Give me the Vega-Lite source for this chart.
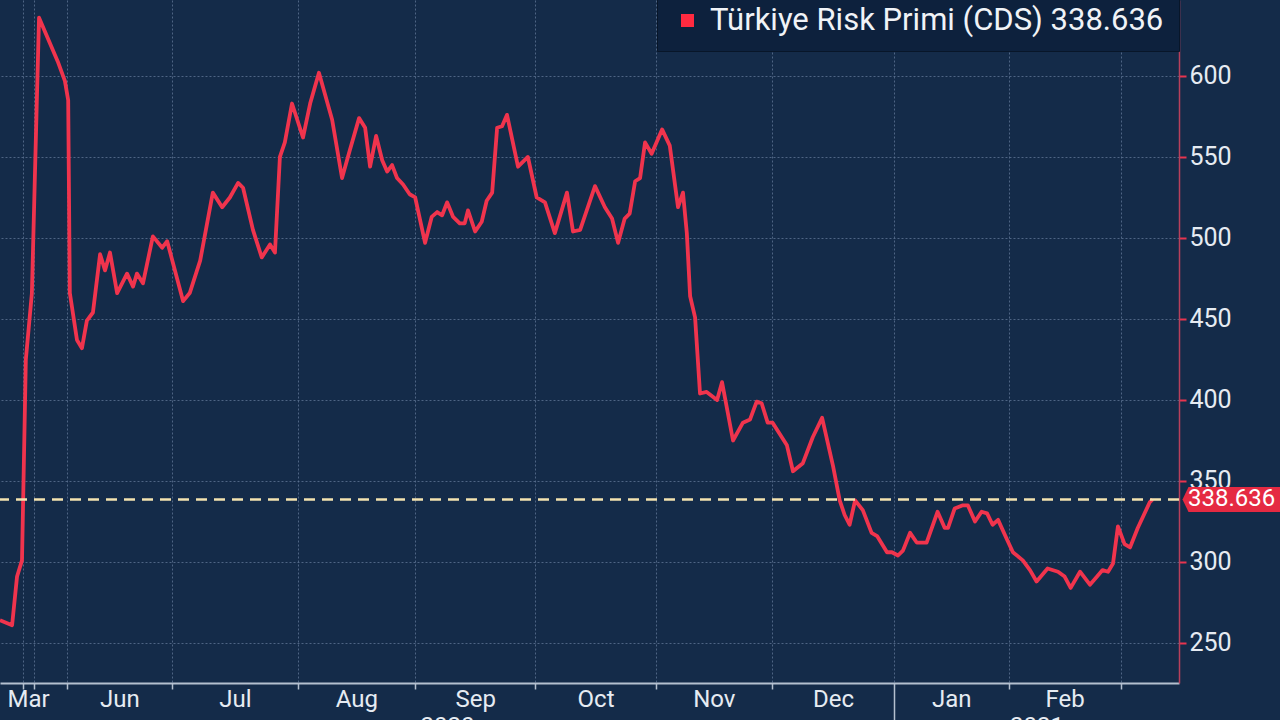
{
  "$schema": "https://vega.github.io/schema/vega-lite/v6.json",
  "width": 1179,
  "height": 683,
  "autosize": {"type": "none"},
  "padding": {"left": 0, "top": 0, "right": 101, "bottom": 37},
  "background": "#142b49",
  "datasets": {
    "cds": [
      {"d": 0, "cds": 264}, {"d": 2.2, "cds": 261}, {"d": 3.1, "cds": 291}, {"d": 4.0, "cds": 301},
      {"d": 4.7, "cds": 425}, {"d": 5.8, "cds": 466}, {"d": 6.7, "cds": 585}, {"d": 7.1, "cds": 636},
      {"d": 9.1, "cds": 620}, {"d": 10.5, "cds": 609}, {"d": 11.8, "cds": 597}, {"d": 12.4, "cds": 585},
      {"d": 12.7, "cds": 466}, {"d": 14.0, "cds": 437}, {"d": 14.9, "cds": 432}, {"d": 15.8, "cds": 449},
      {"d": 16.9, "cds": 454}, {"d": 18.2, "cds": 490}, {"d": 19.1, "cds": 480}, {"d": 20.0, "cds": 491},
      {"d": 21.3, "cds": 466}, {"d": 23.1, "cds": 478}, {"d": 24.2, "cds": 470}, {"d": 24.9, "cds": 478},
      {"d": 26.0, "cds": 472}, {"d": 27.8, "cds": 501}, {"d": 29.5, "cds": 494}, {"d": 30.4, "cds": 498},
      {"d": 33.3, "cds": 461}, {"d": 34.5, "cds": 466}, {"d": 36.4, "cds": 486}, {"d": 38.7, "cds": 528},
      {"d": 40.4, "cds": 519}, {"d": 41.8, "cds": 525}, {"d": 43.3, "cds": 534}, {"d": 44.2, "cds": 531},
      {"d": 46.0, "cds": 505}, {"d": 47.6, "cds": 488}, {"d": 49.1, "cds": 496}, {"d": 50.0, "cds": 491},
      {"d": 50.9, "cds": 550}, {"d": 51.8, "cds": 559}, {"d": 53.1, "cds": 583}, {"d": 55.1, "cds": 562},
      {"d": 56.4, "cds": 583}, {"d": 58.0, "cds": 602}, {"d": 60.4, "cds": 573}, {"d": 62.2, "cds": 537},
      {"d": 63.6, "cds": 554}, {"d": 65.3, "cds": 574}, {"d": 66.4, "cds": 568}, {"d": 67.3, "cds": 544},
      {"d": 68.4, "cds": 563}, {"d": 69.5, "cds": 548}, {"d": 70.4, "cds": 541}, {"d": 71.3, "cds": 545},
      {"d": 72.2, "cds": 537}, {"d": 73.3, "cds": 533}, {"d": 74.5, "cds": 527}, {"d": 75.5, "cds": 525},
      {"d": 77.3, "cds": 497}, {"d": 78.5, "cds": 513}, {"d": 79.5, "cds": 516}, {"d": 80.4, "cds": 514},
      {"d": 81.3, "cds": 522}, {"d": 82.4, "cds": 513}, {"d": 83.6, "cds": 509}, {"d": 84.5, "cds": 509},
      {"d": 85.1, "cds": 517}, {"d": 86.4, "cds": 504}, {"d": 87.6, "cds": 510}, {"d": 88.5, "cds": 523},
      {"d": 89.5, "cds": 528}, {"d": 90.4, "cds": 568}, {"d": 91.3, "cds": 569}, {"d": 92.2, "cds": 576},
      {"d": 94.2, "cds": 544}, {"d": 96.0, "cds": 550}, {"d": 97.6, "cds": 525}, {"d": 99.1, "cds": 522},
      {"d": 100.9, "cds": 503}, {"d": 103.1, "cds": 528}, {"d": 104.2, "cds": 504}, {"d": 105.5, "cds": 505},
      {"d": 108.2, "cds": 532}, {"d": 110.0, "cds": 519}, {"d": 111.3, "cds": 512}, {"d": 112.4, "cds": 497},
      {"d": 113.6, "cds": 512}, {"d": 114.5, "cds": 515}, {"d": 115.5, "cds": 535}, {"d": 116.4, "cds": 537},
      {"d": 117.3, "cds": 559}, {"d": 118.5, "cds": 552}, {"d": 120.4, "cds": 567}, {"d": 121.8, "cds": 557},
      {"d": 123.3, "cds": 519}, {"d": 124.2, "cds": 528}, {"d": 124.9, "cds": 503}, {"d": 125.5, "cds": 464},
      {"d": 126.4, "cds": 451}, {"d": 127.3, "cds": 404}, {"d": 128.5, "cds": 405}, {"d": 130.4, "cds": 400},
      {"d": 131.3, "cds": 411}, {"d": 133.3, "cds": 375}, {"d": 135.1, "cds": 386}, {"d": 136.4, "cds": 388},
      {"d": 137.6, "cds": 399}, {"d": 138.5, "cds": 398}, {"d": 139.6, "cds": 386}, {"d": 140.5, "cds": 386},
      {"d": 143.1, "cds": 372}, {"d": 144.2, "cds": 356}, {"d": 146.0, "cds": 361}, {"d": 147.8, "cds": 377},
      {"d": 149.5, "cds": 389}, {"d": 151.5, "cds": 359}, {"d": 152.7, "cds": 338}, {"d": 153.6, "cds": 329},
      {"d": 154.5, "cds": 323}, {"d": 155.5, "cds": 338}, {"d": 156.9, "cds": 332}, {"d": 158.5, "cds": 318},
      {"d": 159.5, "cds": 316}, {"d": 161.3, "cds": 306}, {"d": 162.2, "cds": 306}, {"d": 163.3, "cds": 304},
      {"d": 164.2, "cds": 307}, {"d": 165.5, "cds": 318}, {"d": 166.7, "cds": 312}, {"d": 168.5, "cds": 312},
      {"d": 170.5, "cds": 331}, {"d": 171.8, "cds": 321}, {"d": 172.4, "cds": 321}, {"d": 173.6, "cds": 333},
      {"d": 175.1, "cds": 335}, {"d": 176.0, "cds": 335}, {"d": 177.3, "cds": 325}, {"d": 178.5, "cds": 331},
      {"d": 179.5, "cds": 330}, {"d": 180.5, "cds": 323}, {"d": 181.5, "cds": 326}, {"d": 183.1, "cds": 314},
      {"d": 184.2, "cds": 306}, {"d": 186.0, "cds": 301}, {"d": 187.3, "cds": 295}, {"d": 188.5, "cds": 288},
      {"d": 190.5, "cds": 296}, {"d": 192.4, "cds": 294}, {"d": 193.6, "cds": 291}, {"d": 194.7, "cds": 284},
      {"d": 196.4, "cds": 294}, {"d": 198.2, "cds": 286}, {"d": 199.5, "cds": 291}, {"d": 200.5, "cds": 295},
      {"d": 201.5, "cds": 294}, {"d": 202.4, "cds": 299}, {"d": 203.3, "cds": 322}, {"d": 204.5, "cds": 311},
      {"d": 205.5, "cds": 309}, {"d": 206.9, "cds": 321}, {"d": 209.1, "cds": 337}, {"d": 209.6, "cds": 338.636}
    ],
    "last": [{"d": 214.4, "cds": 338.636, "label": "338.636"}]
  },
  "layer": [
    {
      "data": {"name": "cds"},
      "transform": [{"calculate": "'Türkiye Risk Primi (CDS) 338.636'", "as": "series"}],
      "mark": {"type": "line", "strokeWidth": 3.8, "strokeJoin": "round", "clip": true},
      "encoding": {
        "x": {
          "field": "d",
          "type": "quantitative",
          "scale": {"domain": [0, 214.4], "nice": false, "zero": false},
          "axis": {
            "title": null,
            "values": [4.2, 5.1, 6.2, 12.2, 21.7, 31.3, 42.7, 54.2, 64.8, 75.5, 81.3, 86.4, 97.3, 108.3, 119.3, 129.8, 140.4, 151.5, 162.5, 173, 183.5, 188.5, 193.6, 203.8],
            "labelExpr": "indexof([5.1, 21.7, 42.7, 64.8, 86.4, 108.3, 129.8, 151.5, 173, 193.6], datum.value) >= 0 ? ['Mar', 'Jun', 'Jul', 'Aug', 'Sep', 'Oct', 'Nov', 'Dec', 'Jan', 'Feb'][indexof([5.1, 21.7, 42.7, 64.8, 86.4, 108.3, 129.8, 151.5, 173, 193.6], datum.value)] : datum.value == 81.3 ? ['', '2020'] : datum.value == 188.5 ? ['', '2021'] : ''",
            "labelOverlap": false,
            "labelFlush": false,
            "labelBound": false,
            "labelFont": "Roboto",
            "labelFontSize": 24,
            "labelColor": "#e6ebf2",
            "labelLineHeight": 27,
            "labelPadding": -2,
            "domainColor": "#b4c0cf",
            "domainWidth": 2,
            "tickColor": "#b4c0cf",
            "tickWidth": 1.5,
            "tickSize": {"condition": {"test": "datum.value == 162.5", "value": 37}, "value": 6},
            "tickOpacity": {"condition": {"test": "indexof([4.2, 6.2, 12.2, 31.3, 54.2, 75.5, 97.3, 119.3, 140.4, 162.5, 183.5, 203.8], datum.value) >= 0", "value": 1}, "value": 0},
            "grid": true,
            "gridColor": "#5d7494",
            "gridDash": [2, 2],
            "gridWidth": 1,
            "gridOpacity": {"condition": {"test": "indexof([4.2, 6.2, 12.2, 31.3, 54.2, 75.5, 97.3, 119.3, 140.4, 162.5, 183.5, 203.8], datum.value) >= 0", "value": 0.8}, "value": 0}
          }
        },
        "y": {
          "field": "cds",
          "type": "quantitative",
          "scale": {"domain": [225.3, 646.9], "nice": false, "zero": false},
          "axis": {
            "title": null,
            "orient": "right",
            "values": [250, 300, 350, 400, 450, 500, 550, 600],
            "labelFont": "Roboto",
            "labelFontSize": 25,
            "labelColor": "#e6ebf2",
            "labelPadding": 3,
            "domainColor": "#b8405c",
            "domainWidth": 1.5,
            "tickColor": "#e8344f",
            "tickWidth": 2,
            "tickSize": 7,
            "grid": true,
            "gridColor": "#5d7494",
            "gridDash": [2, 2],
            "gridWidth": 1,
            "gridOpacity": 0.8
          }
        },
        "color": {
          "field": "series",
          "type": "nominal",
          "scale": {"range": ["#f0344d"]},
          "legend": {
            "title": null,
            "orient": "none",
            "legendX": 657,
            "legendY": -10,
            "padding": 15,
            "fillColor": "#0d213d",
            "strokeColor": "#081629",
            "symbolType": "square",
            "symbolSize": 169,
            "labelOffset": 7,
            "labelFont": "Roboto",
            "labelFontSize": 31,
            "labelColor": "#f0f3f7",
            "labelLimit": 1000,
            "encode": {"symbols": {"update": {"fill": {"value": "#ff2a40"}, "stroke": {"value": "transparent"}, "strokeWidth": {"value": 0}, "opacity": {"value": 1}}}}
          }
        }
      }
    },
    {
      "data": {"name": "last"},
      "mark": {"type": "rule", "color": "#f3e3b0", "strokeWidth": 2.5, "strokeDash": [11, 7]},
      "encoding": {"y": {"field": "cds", "type": "quantitative"}}
    },
    {
      "data": {"name": "last"},
      "mark": {"type": "point", "shape": "M -0.97 0 L -0.85 -0.25 L 1.2 -0.25 L 1.2 0.25 L -0.85 0.25 Z", "size": 10000, "filled": true, "color": "#e52a42", "opacity": 1, "xOffset": 52, "clip": false},
      "encoding": {"x": {"field": "d", "type": "quantitative"}, "y": {"field": "cds", "type": "quantitative"}}
    },
    {
      "data": {"name": "last"},
      "mark": {"type": "text", "align": "left", "baseline": "middle", "dx": 9, "font": "Roboto", "fontSize": 24, "color": "#ffffff", "clip": false},
      "encoding": {"x": {"field": "d", "type": "quantitative"}, "y": {"field": "cds", "type": "quantitative"}, "text": {"field": "label"}}
    }
  ],
  "config": {
    "view": {"fill": "#142b49", "stroke": null}
  }
}
